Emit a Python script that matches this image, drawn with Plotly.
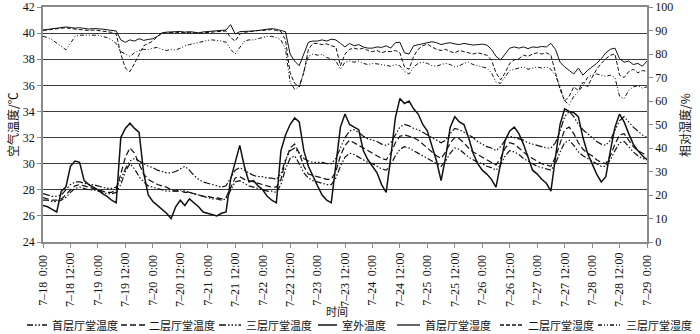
import plotly.graph_objects as go

# Two-hourly readings from 7-18 0:00 to 7-29 0:00 (hours since start)
hours = list(range(0, 265, 2))

# Air temperature, deg C
outdoor_temp = [
    26.8, 26.7, 26.5, 26.3, 27.9, 28.2, 29.8, 30.2, 30.1, 28.7, 28.4, 28.2,
    28.0, 27.7, 27.5, 27.2, 27.0, 32.0, 32.7, 33.1, 32.7, 32.4, 29.3, 27.6,
    27.1, 26.8, 26.5, 26.2, 25.8, 26.7, 27.2, 26.8, 27.3, 27.0, 26.7, 26.3,
    26.2, 26.1, 26.0, 26.2, 26.3, 28.8, 30.2, 31.4, 29.8, 28.6, 28.7, 28.3,
    28.0, 27.5, 27.2, 27.0, 31.0, 32.2, 33.0, 33.5, 33.2, 31.0, 29.8, 29.0,
    28.3, 27.6, 27.2, 27.0, 30.0, 32.8, 33.8, 33.0, 32.8, 32.6, 31.0, 30.3,
    29.8, 29.3, 28.4, 27.8, 30.5, 33.5, 35.0, 34.6, 34.8, 34.2, 33.8, 33.0,
    32.5, 31.3, 30.2, 28.7, 30.5, 32.8, 33.6, 33.2, 33.0, 32.0, 30.8, 30.0,
    29.5, 29.2, 28.8, 28.2, 30.0, 31.8, 32.5, 32.8, 32.3, 31.5, 30.5, 29.5,
    29.2, 28.8, 28.5, 27.9, 30.5, 33.0, 34.2, 34.0, 33.9, 33.6, 32.0, 30.8,
    30.0, 29.2, 28.6, 29.0, 31.0, 32.8, 33.8, 33.2, 32.3, 31.5, 31.0, 30.6, 30.3,
]
floor1_temp = [
    27.2, 27.2, 27.1, 27.1, 27.2, 27.4, 27.8, 28.1, 28.2, 28.1, 28.0, 28.0,
    27.9, 27.8, 27.7, 27.7, 27.8, 28.4, 29.4, 30.0, 29.6, 29.0, 28.6, 28.3,
    28.2, 28.1, 28.0, 27.9, 27.9, 27.9, 28.0, 27.9, 27.8, 27.7, 27.6, 27.5,
    27.4, 27.3, 27.3, 27.2, 27.3, 28.0, 28.6, 28.7, 28.5, 28.3, 28.2, 28.1,
    28.0, 27.9, 27.9, 27.8, 28.4, 29.6, 30.4, 30.6, 30.0, 29.3, 28.9, 28.7,
    28.6, 28.5, 28.4, 28.4, 28.9, 29.8, 30.5, 30.8, 30.7, 30.5, 30.3, 30.1,
    30.0, 29.8, 29.6, 29.5, 29.9, 30.6, 31.1, 31.3, 31.2, 31.0, 30.8, 30.6,
    30.4, 30.2, 30.0, 29.8, 30.2, 30.8, 31.2, 31.1, 30.8, 30.5, 30.3, 30.1,
    30.0, 29.8, 29.7, 29.5, 29.9, 30.6, 31.0, 30.9, 30.7, 30.4, 30.2, 30.0,
    29.8, 29.7, 29.6, 29.5, 30.0, 30.9, 31.6, 31.8, 31.4, 30.9, 30.6, 30.4,
    30.2, 30.0, 29.8, 29.8, 30.3, 31.0, 31.6, 31.7, 31.3, 30.9, 30.6, 30.4, 30.3,
]
floor2_temp = [
    27.4, 27.3, 27.2, 27.2, 27.3, 27.6, 28.0, 28.3, 28.4, 28.3, 28.2, 28.1,
    28.0, 27.9, 27.8, 27.8, 28.0, 29.2, 30.5, 31.2, 30.8, 30.0, 29.2, 28.8,
    28.6, 28.4, 28.3, 28.2, 28.0, 27.9, 27.9, 27.8, 27.8, 27.7, 27.6, 27.5,
    27.5, 27.4, 27.4, 27.3, 27.4, 28.2, 28.9, 29.0, 28.8, 28.7, 28.6, 28.5,
    28.4, 28.3, 28.2, 28.2, 28.8, 30.2, 31.2, 31.5, 30.8, 29.8, 29.2, 29.1,
    29.0, 28.9, 28.8, 28.8, 29.4, 30.6, 31.4, 31.8, 31.6, 31.4, 31.2, 31.0,
    30.8, 30.6, 30.4, 30.3, 30.8, 31.6, 32.1, 32.2, 32.1, 32.0, 31.8, 31.5,
    31.2, 30.9, 30.6, 30.4, 30.9, 31.6, 32.0, 31.9, 31.6, 31.2, 30.9, 30.7,
    30.5, 30.3, 30.1, 29.9, 30.4, 31.2, 31.6, 31.5, 31.2, 30.9, 30.6, 30.4,
    30.2, 30.0, 29.9, 29.8, 30.5, 31.6, 32.6, 32.8, 32.3, 31.6, 31.1, 30.8,
    30.6, 30.3, 30.1, 30.0, 30.6, 31.5, 32.2, 32.3, 31.8, 31.3, 31.0, 30.8, 30.6,
]
floor3_temp = [
    27.7, 27.6, 27.5, 27.5, 27.6, 28.0, 28.4, 28.6, 28.6, 28.5, 28.4, 28.4,
    28.3, 28.2, 28.1, 28.1, 28.2, 28.8, 29.6, 30.2, 30.4, 30.2, 30.0, 29.8,
    29.7, 29.5, 29.4, 29.3, 29.3, 29.4, 29.6, 29.8, 29.5, 29.1, 28.8, 28.6,
    28.5, 28.4, 28.3, 28.2, 28.3, 28.9, 29.5, 29.7, 29.5, 29.3, 29.1, 29.0,
    29.0, 28.9, 28.9, 28.8, 29.2, 30.3, 31.0, 31.2, 30.8, 30.4, 30.2, 30.1,
    30.1, 30.1, 30.0, 30.0, 30.4, 31.2, 32.0, 32.5, 32.6, 32.4, 32.1, 31.9,
    31.8, 31.7, 31.5, 31.4, 31.6, 32.2, 32.8, 33.0, 32.9, 32.7, 32.6, 32.4,
    32.2, 32.0, 31.8, 31.6, 31.8, 32.3, 32.7, 32.6, 32.4, 32.2, 32.0, 31.7,
    31.5, 31.3, 31.2, 31.0, 31.3, 31.8, 32.1, 32.0, 31.9, 31.8, 31.6, 31.5,
    31.4, 31.3, 31.2, 31.2, 31.6, 32.5, 33.6, 34.0, 33.6, 33.0, 32.6, 32.3,
    32.0, 31.7, 31.5, 31.4, 31.8, 32.6, 33.3, 33.6, 33.2, 32.8, 32.5, 32.2, 32.0,
]

# Relative humidity, %
floor1_rh = [
    90.2, 90.5, 90.8, 91.0, 91.2, 91.5, 91.3, 91.0, 91.2, 90.8, 90.6, 90.8,
    90.8, 90.6, 90.3, 90.2, 89.8, 86.0, 85.0, 86.0, 85.5, 86.5, 85.8, 86.2,
    86.5, 87.5, 89.0, 89.3, 89.5, 89.4, 89.6, 89.3, 89.5, 89.3, 89.0, 89.4,
    89.5, 89.6, 89.8, 90.0, 90.2, 92.5, 88.5, 89.5, 89.6, 89.4, 89.8, 90.0,
    90.3, 90.6, 90.8, 90.5, 90.0, 89.5, 80.0, 77.0, 75.0, 80.0, 85.0, 85.5,
    85.5, 86.0, 85.5, 86.3, 86.0, 84.5, 83.0, 84.5, 83.5, 84.0, 83.0, 82.5,
    82.5, 83.0, 82.8, 83.5, 82.5, 84.8, 85.0, 80.5, 80.0, 83.5, 84.0, 84.5,
    85.0, 85.2, 84.8, 84.0, 84.5, 84.8, 84.3, 84.0, 84.5, 84.3, 83.8, 84.0,
    84.2, 83.8, 82.0, 79.0, 77.5, 80.0, 82.5, 83.0, 82.5, 83.0, 82.3, 83.0,
    82.8, 83.2, 83.0, 84.5, 82.0, 76.5, 74.5, 73.0, 71.5, 74.0, 71.0, 73.0,
    74.5, 76.0, 78.0, 80.5, 82.0, 82.5, 78.0, 76.5, 77.0, 75.5, 76.0, 74.8, 77.0,
]
floor2_rh = [
    90.0, 90.3, 90.5, 90.8, 91.0, 91.2, 90.8, 90.5, 90.5, 90.2, 90.0, 90.2,
    90.0, 89.8, 89.5, 89.2, 88.5, 80.0, 74.0, 72.5, 76.0, 80.0, 83.5, 84.5,
    85.5, 87.5, 88.8, 89.0, 89.2, 89.0, 89.3, 89.0, 89.2, 89.0, 88.8, 89.0,
    89.2, 89.3, 89.5, 89.6, 89.8, 87.0, 85.5, 88.5, 89.2, 89.5, 89.8, 90.0,
    90.0, 90.3, 90.4, 90.0, 89.5, 86.0, 72.0, 67.5, 66.0, 72.0, 82.0, 84.5,
    84.5, 84.0, 84.3, 83.5, 83.0, 75.0, 80.0, 82.0, 82.5, 82.0, 82.5, 81.5,
    81.0, 81.5, 80.5, 81.2, 81.0, 81.5, 80.5, 74.5, 73.5, 79.0, 82.0, 83.5,
    84.2, 83.0, 82.0, 81.5, 82.0, 81.0, 80.5, 81.5, 81.0, 80.5, 80.0, 80.5,
    80.0, 79.5, 77.5, 72.0, 69.0, 72.0, 76.0, 77.5, 78.0, 79.5, 79.0, 80.0,
    80.5, 80.0, 80.5, 79.5, 72.0, 65.0, 60.0, 62.0, 66.0, 64.5, 68.0, 66.0,
    70.0, 73.5, 76.0, 78.0, 79.5, 80.0, 71.0, 70.0, 72.5, 73.5, 72.0, 73.0, 72.5,
]
floor3_rh = [
    87.5, 87.0, 86.0, 84.5, 83.0, 81.8, 84.5, 87.5, 88.0, 88.0, 87.8, 88.0,
    88.0, 87.5, 87.0, 86.0, 84.5, 81.0, 80.0, 79.0, 80.5, 81.5, 82.0, 81.8,
    82.5, 82.8, 82.0, 81.5, 82.0, 81.7, 82.5, 83.5, 84.0, 84.5, 85.0, 85.5,
    85.8, 86.0, 85.8, 85.5, 85.0, 82.0, 80.0, 83.0, 85.5, 86.0, 86.0, 86.5,
    87.0, 87.5, 87.5, 87.0, 86.0, 82.0, 68.0, 65.0, 66.0, 72.0, 79.0, 80.0,
    79.5, 79.8, 78.5, 78.0, 77.0, 73.5, 76.5, 77.0, 76.5, 77.0, 76.0, 75.5,
    76.0, 75.8, 75.5, 75.0, 74.8, 75.5, 75.0, 72.5, 71.5, 74.5, 76.0, 76.5,
    76.0, 75.0, 74.8, 75.5, 76.0, 75.5, 74.5, 75.0, 76.0, 76.5, 75.5, 75.0,
    74.5, 74.0, 72.0, 68.0, 67.5, 70.5, 73.0, 73.5, 74.0, 74.5, 73.5, 74.0,
    74.5, 74.0, 74.5, 73.5, 71.0, 66.0, 60.0, 58.5, 62.0, 64.0, 66.5, 70.0,
    71.0, 71.5, 71.0, 70.5, 71.0, 70.0, 62.0, 61.0, 64.5, 66.0, 66.5, 65.5, 66.0,
]

# Axis ticks every 12 hours
tick_hours = list(range(0, 265, 12))
tick_days = [18, 18, 19, 19, 20, 20, 21, 21, 22, 22, 23, 23,
             24, 24, 25, 25, 26, 26, 27, 27, 28, 28, 29]
tick_times = ["0:00", "12:00"] * 11 + ["0:00"]

THIN = "\u2009"
tick_labels = [
    f"7–{d} {t}" if t == "12:00" else f"7–{d} {THIN}{t}{THIN}"
    for d, t in zip(tick_days, tick_times)
]

series = [
    ("首层厅堂温度", floor1_temp, "6px,2px,1.5px,2px,1.5px,2px", 1.2, "y"),
    ("二层厅堂温度", floor2_temp, "6px,3px", 1.2, "y"),
    ("三层厅堂温度", floor3_temp, "7px,2px,1.5px,2px,1.5px,2px,1.5px,2px", 1.2, "y"),
    ("室外温度", outdoor_temp, "solid", 1.5, "y"),
    ("首层厅堂湿度", floor1_rh, "solid", 1.0, "y2"),
    ("二层厅堂湿度", floor2_rh, "4px,2px", 1.0, "y2"),
    ("三层厅堂湿度", floor3_rh, "4px,2px,1px,2px,1px,2px", 1.0, "y2"),
]

INK = "#111111"
AXIS = "#8a8a8a"
SERIF = "Liberation Serif, Noto Sans CJK SC"
CJK = "Noto Sans CJK SC"

fig = go.Figure()
for name, vals, dash, width, axis in series:
    fig.add_trace(go.Scatter(
        x=hours, y=vals, name=name, mode="lines", yaxis=axis,
        line=dict(color=INK, width=width, dash=dash),
        showlegend=False,
    ))

W, H = 700, 334
L, R, T, B = 43, 53, 7, 92
PW, PH = W - L - R, H - T - B


def px_x(px):
    return (px - L) / PW


def px_y(py):
    return (H - B - py) / PH


# Legend row drawn below the axis
legend_items = [
    (27, 47, 50), (121, 145, 147), (219, 241, 244), (318, 337, 340),
    (397, 420, 423), (500, 522, 526), (598, 620, 624),
]
shapes = []
annotations = []
ly = px_y(325)
for (s0, s1, tx), (name, _, dash, width, _) in zip(legend_items, series):
    shapes.append(dict(type="line", xref="paper", yref="paper",
                       x0=px_x(s0), x1=px_x(s1), y0=ly, y1=ly,
                       line=dict(color=INK, width=max(width, 1.3), dash=dash)))
    annotations.append(dict(text=name, xref="paper", yref="paper",
                            x=px_x(tx), y=ly, xanchor="left", yanchor="middle",
                            showarrow=False, font=dict(family=CJK, size=11, color=INK)))

annotations += [
    dict(text="时间", xref="paper", yref="paper", x=px_x(337), y=px_y(311),
         xanchor="center", yanchor="middle", showarrow=False,
         font=dict(family=CJK, size=11, color=INK)),
    dict(text="空气温度/℃", xref="paper", yref="paper", x=px_x(12), y=px_y(125),
         xanchor="center", yanchor="middle", textangle=-90, showarrow=False,
         font=dict(family=CJK, size=12, color=INK)),
    dict(text="相对湿度/%", xref="paper", yref="paper", x=px_x(684), y=px_y(125),
         xanchor="center", yanchor="middle", textangle=-90, showarrow=False,
         font=dict(family=CJK, size=12, color=INK)),
]

tickfont = dict(family=SERIF, size=12, color=INK)
fig.update_layout(
    width=W, height=H,
    margin=dict(l=L, r=R, t=T, b=B, pad=0),
    paper_bgcolor="white", plot_bgcolor="white",
    xaxis=dict(range=[0, 264], tickmode="array", tickvals=tick_hours, ticktext=tick_labels,
               tickangle=-90, ticks="outside", ticklen=4, tickcolor=AXIS,
               showline=True, linecolor=AXIS, linewidth=1.5, mirror=True,
               showgrid=False, zeroline=False, tickfont=tickfont, automargin=False),
    yaxis=dict(range=[24, 42], tick0=24, dtick=2, ticks="outside", ticklen=4, tickcolor=AXIS,
               showline=True, linecolor=AXIS, linewidth=1.5, showgrid=True,
               gridcolor="#3a3a3a", gridwidth=1, zeroline=False, tickfont=tickfont,
               automargin=False),
    yaxis2=dict(range=[0, 100], tick0=0, dtick=10, overlaying="y", side="right",
                ticks="outside", ticklen=4, tickcolor=AXIS, showline=True, linecolor=AXIS,
                linewidth=1.5, showgrid=False, zeroline=False, tickfont=tickfont,
                automargin=False),
    shapes=shapes,
    annotations=annotations,
)

fig.write_html("out.html")
